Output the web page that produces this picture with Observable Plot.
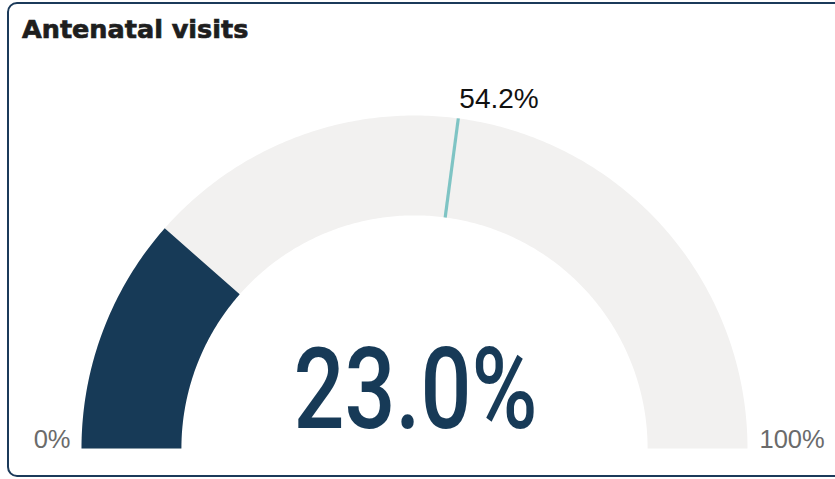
<!DOCTYPE html>
<html><head><meta charset="utf-8">
<script src="https://cdn.jsdelivr.net/npm/d3@7"></script>
<script src="https://cdn.jsdelivr.net/npm/@observablehq/plot@0.6"></script>
<style>
html,body{margin:0;padding:0;background:#fff;overflow:hidden;width:835px;height:479px;}
#chart{position:absolute;left:0;top:0;}
#frame{position:absolute;left:7px;top:2px;width:860px;height:475px;border:2px solid #1b3a5a;border-radius:10px;box-sizing:border-box;pointer-events:none;}
#title{position:absolute;left:22px;top:16px;font-family:"DejaVu Sans";font-weight:bold;font-size:25.5px;line-height:26px;color:#1e1e1e;white-space:nowrap;-webkit-text-stroke:0.7px #1e1e1e;}
</style></head>
<body>
<div id="chart"></div>
<div id="frame"></div>
<div id="title"></div>
<script>
const titleText = "Antenatal visits";
const valuePct = [23.0];
const valueLabels = ["23.0%"];
const benchmarkPct = [54.2];
const benchmarkLabels = ["54.2%"];
const scaleEnds = [0, 100];
const scaleLabels = ["0%", "100%"];

document.getElementById("title").textContent = titleText;

const R1 = 1, R0 = 0.7;
const ang = p => Math.PI * (1 - p / 100);
function arc(from, to) {
  const pts = [];
  const n = Math.max(2, Math.ceil((to - from) * 3));
  for (let i = 0; i <= n; i++) { const a = ang(from + (to - from) * i / n); pts.push({x: R1 * Math.cos(a), y: R1 * Math.sin(a)}); }
  for (let i = n; i >= 0; i--) { const a = ang(from + (to - from) * i / n); pts.push({x: R0 * Math.cos(a), y: R0 * Math.sin(a)}); }
  return pts;
}
const trackPts = arc(scaleEnds[0], scaleEnds[1]);
const valuePts = arc(scaleEnds[0], valuePct[0]);
const ends = scaleEnds.map((p, i) => ({p, label: scaleLabels[i]}));
const endFont = {lineAnchor: "middle", dy: -9, fontSize: 25.5, fontFamily: "Liberation Sans, Arial, sans-serif", fill: "#6b6b6b"};

const plot = Plot.plot({
  width: 835, height: 479, margin: 0,
  x: {domain: [-1, 1], range: [81, 747], axis: null},
  y: {domain: [0, 1], range: [448, 115], axis: null},
  style: {background: "transparent", overflow: "visible"},
  marks: [
    Plot.line(trackPts, {x: "x", y: "y", fill: "#f2f1f0", stroke: "none"}),
    Plot.line(valuePts, {x: "x", y: "y", fill: "#173a57", stroke: "none"}),
    Plot.link(benchmarkPct, {
      x1: p => R0 * Math.cos(ang(p)), y1: p => R0 * Math.sin(ang(p)),
      x2: p => R1 * Math.cos(ang(p)), y2: p => R1 * Math.sin(ang(p)),
      stroke: "#7fc4c4", strokeWidth: 3.2
    }),
    Plot.text(benchmarkPct, {
      x: p => R1 * Math.cos(ang(p)), y: p => R1 * Math.sin(ang(p)),
      text: (p, i) => benchmarkLabels[i], textAnchor: "start", lineAnchor: "middle",
      dx: 1, dy: -19, fontSize: 28, fontFamily: "Liberation Sans, Arial, sans-serif", fill: "#111"
    }),
    Plot.text(ends.filter(d => d.p === scaleEnds[0]), {
      x: d => R1 * Math.cos(ang(d.p)), y: 0, text: "label", textAnchor: "end", dx: -11, ...endFont
    }),
    Plot.text(ends.filter(d => d.p === scaleEnds[1]), {
      x: d => R1 * Math.cos(ang(d.p)), y: 0, text: "label", textAnchor: "start", dx: 12, ...endFont
    }),
    Plot.text(valueLabels, {
      x: 0.003, y: 0, text: d => d, textAnchor: "middle", lineAnchor: "middle",
      dy: -56.5, fontSize: 114, fontWeight: 500, fontFamily: "Roboto, sans-serif", fill: "#173a57"
    })
  ]
});
document.getElementById("chart").appendChild(plot);
d3.select(plot).selectAll("text").filter(function(){ return this.textContent === valueLabels[0]; })
  .attr("textLength", 244).attr("lengthAdjust", "spacingAndGlyphs");
</script>
</body></html>
